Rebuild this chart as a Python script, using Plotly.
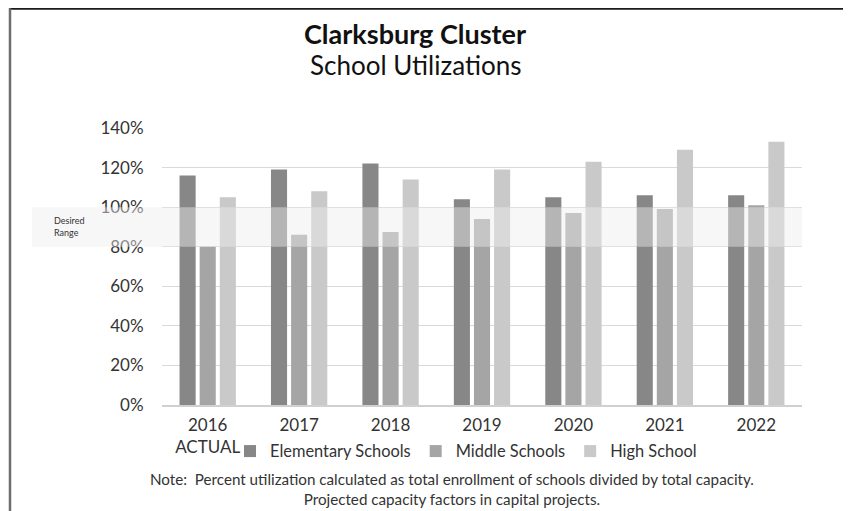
import plotly.graph_objects as go

years = ["2016", "2017", "2018", "2019", "2020", "2021", "2022"]
tick_labels = ["2016<br>ACTUAL", "2017", "2018", "2019", "2020", "2021", "2022"]
elementary = [1.16, 1.19, 1.22, 1.04, 1.05, 1.06, 1.06]
middle = [0.80, 0.86, 0.875, 0.94, 0.97, 0.99, 1.01]
high = [1.05, 1.08, 1.14, 1.19, 1.23, 1.29, 1.33]
series_names = ["Elementary Schools", "Middle Schools", "High School"]
series_colors = ["#878787", "#a5a5a5", "#c9c9c9"]
desired_range = [0.8, 1.0]

FONT = "Lato"
OFF = 8  # page offset of the figure inside the browser window
W, H = 851 - OFF, 511 - OFF
# plot area in window pixels: x 162..802, y 128..405.5
L = 162 - OFF
R = W - (802 - OFF)
T = 128 - OFF
B = H - (405.5 - OFF)
pw = W - L - R
ph = H - T - B

def px_x(p):
    return (p - OFF - L) / pw

def px_y(p):
    return (H - B - (p - OFF)) / ph

fig = go.Figure()
for name, vals, col in zip(series_names, [elementary, middle, high], series_colors):
    fig.add_trace(go.Bar(x=years, y=vals, name=name, marker=dict(color=col, line=dict(width=0))))

shapes = [
    dict(type="rect", xref="paper", yref="y", x0=px_x(32), x1=1.0, y0=desired_range[0], y1=desired_range[1],
         fillcolor="rgba(237,237,237,0.45)", line=dict(width=0), layer="above"),
    dict(type="line", xref="paper", yref="paper", x0=px_x(9), x1=px_x(848), y0=px_y(8.5), y1=px_y(8.5),
         line=dict(color="#1a1a1a", width=2)),
    dict(type="line", xref="paper", yref="paper", x0=px_x(10), x1=px_x(10), y0=px_y(8), y1=px_y(520),
         line=dict(color="#6e6e6e", width=2.5)),
    dict(type="line", xref="paper", yref="paper", x0=px_x(847), x1=px_x(847), y0=px_y(8), y1=px_y(520),
         line=dict(color="#6e6e6e", width=2.5)),
]

annotations = [
    dict(text="<b>Clarksburg Cluster</b>", xref="paper", yref="paper", x=px_x(415), y=px_y(33),
         showarrow=False, font=dict(family=FONT, size=27, color="#111111"), xanchor="center", yanchor="middle"),
    dict(text="School Utilizations", xref="paper", yref="paper", x=px_x(415), y=px_y(65),
         showarrow=False, font=dict(family=FONT, size=26, color="#111111"), xanchor="center", yanchor="middle"),
    dict(text="Desired<br>Range", xref="paper", yref="y", x=px_x(52), y=0.9, align="left",
         showarrow=False, font=dict(family=FONT, size=9, color="#333333"), xanchor="left", yanchor="middle"),
    dict(text="Note:  Percent utilization calculated as total enrollment of schools divided by total capacity.<br>Projected capacity factors in capital projects.",
         xref="paper", yref="paper", x=px_x(452), y=px_y(490), align="center",
         showarrow=False, font=dict(family=FONT, size=15.2, color="#333333"), xanchor="center", yanchor="middle"),
]

fig.update_layout(
    width=W, height=H,
    margin=dict(l=L, r=R, t=T, b=B, pad=0),
    paper_bgcolor="white", plot_bgcolor="white",
    barmode="group", bargap=0.34, bargroupgap=0.2,
    font=dict(family=FONT, color="#333333"),
    shapes=shapes, annotations=annotations,
    showlegend=True,
    legend=dict(orientation="h", x=px_x(230), y=px_y(452), xanchor="left", yanchor="middle",
                font=dict(family=FONT, size=16.4, color="#333333"), itemwidth=30,
                bgcolor="rgba(0,0,0,0)", traceorder="normal"),
    xaxis=dict(tickmode="array", tickvals=years, ticktext=tick_labels, showgrid=False,
               showline=True, linecolor="#d0d0d0", linewidth=1.5, ticks="",
               ticklabelstandoff=4,
               tickfont=dict(family=FONT, size=17, color="#333333")),
    yaxis=dict(range=[0, 1.4], tickvals=[0, 0.2, 0.4, 0.6, 0.8, 1.0, 1.2, 1.4], tickformat=".0%",
               showgrid=True, gridcolor="#d9d9d9", gridwidth=1, zeroline=False, showline=False,
               ticks="outside", ticklen=14, tickcolor="rgba(0,0,0,0)",
               tickfont=dict(family=FONT, size=17, color="#333333")),
)

fig.write_html("out.html")
